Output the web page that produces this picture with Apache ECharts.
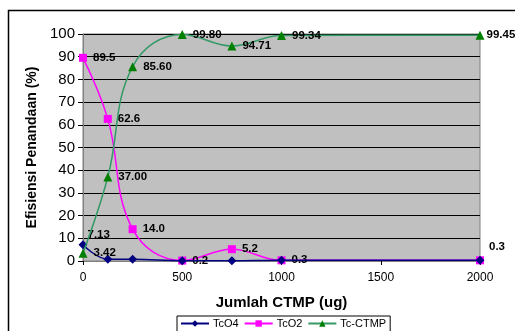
<!DOCTYPE html>
<html><head><meta charset="utf-8">
<script src="https://cdn.jsdelivr.net/npm/echarts@6/dist/echarts.min.js"></script>
<style>html,body{margin:0;padding:0;background:#fff}#c{width:515px;height:331px}</style>
</head><body><div id="c"></div>
<script>
var xValues = [0, 125, 250, 500, 750, 1000, 2000];
var tcO4 = [7.13, 0.8, 0.8, 0.1, 0.1, 0.3, 0.3];
var tcO2 = [89.5, 62.6, 14.0, 0.2, 5.2, 0.3, 0.3];
var tcCTMP = [3.42, 37.00, 85.60, 99.80, 94.71, 99.34, 99.45];
var tcO4Labels = ['7.13', '', '', '', '', '', ''];
var tcO2Labels = ['89.5', '62.6', '14.0', '0.2', '5.2', '0.3', '0.3'];
var ctmpLabels = ['3.42', '37.00', '85.60', '99.80', '94.71', '99.34', '99.45'];
var seriesNames = ['TcO4', 'TcO2', 'Tc-CTMP'];

var labelStyle = {show: true, position: 'right', distance: 6, color: '#000', fontWeight: 'bold', fontSize: 11.5, fontFamily: 'Liberation Sans'};
function build(vals, labels, offsets) {
  return vals.map(function (v, i) {
    var lab = Object.assign({}, labelStyle, {formatter: labels[i]});
    if (!labels[i]) lab.show = false;
    if (offsets && offsets[i]) lab.offset = offsets[i];
    return {value: [xValues[i], v], label: lab};
  });
}
var chart = echarts.init(document.getElementById('c'));
chart.setOption({
  animation: false,
  textStyle: {fontFamily: 'Liberation Sans'},
  graphic: [{type: 'rect', shape: {x: 8.5, y: 10.5, width: 520, height: 340}, style: {fill: 'none', stroke: '#000', lineWidth: 1.5}, z: -10}],
  grid: {left: 83, right: 35, top: 34, bottom: 70, show: true, backgroundColor: '#c0c0c0', borderColor: '#808080', borderWidth: 1},
  legend: {
    data: seriesNames, top: 316, left: 177, itemWidth: 28, itemHeight: 8, itemGap: 5,
    borderColor: '#000', borderWidth: 1, padding: [2, 4, 3, 3], borderRadius: 0,
    textStyle: {fontSize: 11, color: '#000', fontFamily: 'Liberation Sans', padding: [0, 0, 0, -1]}
  },
  xAxis: {
    type: 'value', min: 0, max: 2000, interval: 500,
    name: 'Jumlah CTMP (ug)', nameLocation: 'middle', nameGap: 34,
    nameTextStyle: {fontWeight: 'bold', fontSize: 15, color: '#000'},
    axisLine: {lineStyle: {color: '#808080'}},
    axisTick: {show: true, length: 4, lineStyle: {color: '#000'}},
    axisLabel: {fontSize: 12, color: '#000', margin: 11, formatter: function (v) { return String(v); }},
    splitLine: {show: false}
  },
  yAxis: {
    type: 'value', min: 0, max: 100, interval: 10,
    name: 'Efisiensi Penandaan (%)', nameLocation: 'middle', nameGap: 43,
    nameTextStyle: {fontWeight: 'bold', fontSize: 14, color: '#000'},
    axisLine: {show: true, lineStyle: {color: '#808080'}},
    axisTick: {show: true, length: 5, lineStyle: {color: '#000'}},
    axisLabel: {fontSize: 15, color: '#000', margin: 8},
    splitLine: {lineStyle: {color: '#000', width: 1}}
  },
  series: [
    {name: 'TcO4', type: 'line', smooth: 0.4, symbol: 'diamond', symbolSize: 9,
     itemStyle: {color: '#000080'}, lineStyle: {color: '#000080', width: 1.5},
     data: build(tcO4, tcO4Labels, [[-6, -10]]), z: 3},
    {name: 'TcO2', type: 'line', smooth: 0.4, symbol: 'rect', symbolSize: 8,
     itemStyle: {color: '#ff00ff'}, lineStyle: {color: '#ff00ff', width: 1.5},
     data: build(tcO2, tcO2Labels, [null, null, null, null, null, null, [-1, -13]]), z: 2},
    {name: 'Tc-CTMP', type: 'line', smooth: 0.4, symbol: 'triangle', symbolSize: 9,
     itemStyle: {color: '#008000'}, lineStyle: {color: '#339966', width: 1.5},
     data: build(tcCTMP, ctmpLabels, [null, null, null, null, null, null, [-4, 0]]), z: 4}
  ]
});
</script></body></html>
